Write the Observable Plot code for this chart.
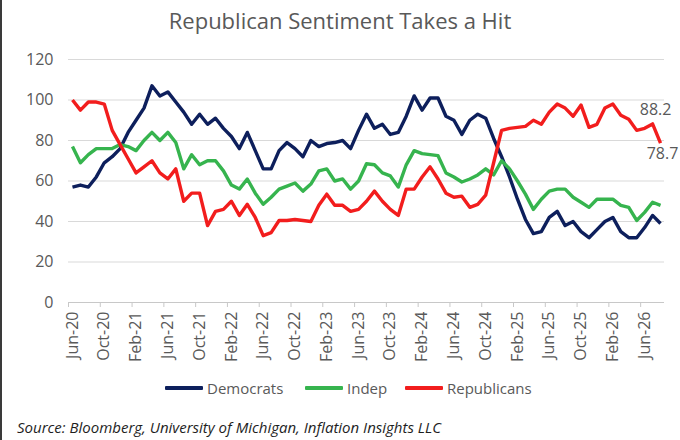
<!DOCTYPE html>
<html>
<head>
<meta charset="utf-8">
<script src="https://cdn.jsdelivr.net/npm/d3@7"></script>
<script src="https://cdn.jsdelivr.net/npm/@observablehq/plot@0.6"></script>
<style>
  html, body { margin: 0; padding: 0; background: #fff; }
  body { width: 680px; height: 440px; position: relative; overflow: hidden; font-family: "Open Sans", sans-serif; }
  #frame { position: absolute; left: 0; top: 0; width: 2px; height: 440px; background: #3a3a3a; }
  #title { position: absolute; left: 0; top: 0; width: 680px; height: 40px; line-height: 40px; text-align: center; font-size: 22px; color: #595959; }
  #chart { position: absolute; left: 0; top: 40px; }
  #legend { position: absolute; left: 0; top: 376px; width: 680px; height: 24px; font-size: 15px; color: #595959; }
  .item { position: absolute; top: 0; height: 24px; line-height: 24px; display: flex; align-items: center; }
  .sw { width: 38px; height: 4px; margin-right: 4px; border-radius: 1px; }
  #source { position: absolute; left: 17px; top: 416px; font-size: 15px; font-style: italic; color: #1e1e1e; line-height: 22px; }
</style>
</head>
<body>
<div id="frame"></div>
<div id="title">Republican Sentiment Takes a Hit</div>
<div id="chart"></div>
<div id="legend"></div>
<div id="source">Source: Bloomberg, University of Michigan, Inflation Insights LLC</div>
<script>
// Months Jun-20 .. Aug-26 (categories)
const monthLabels = d3.utcMonth
  .range(new Date(Date.UTC(2020, 5, 1)), new Date(Date.UTC(2026, 8, 1)))
  .map(d3.utcFormat("%b-%y"));

const tickLabels = ["Jun-20","Oct-20","Feb-21","Jun-21","Oct-21","Feb-22","Jun-22","Oct-22","Feb-23","Jun-23","Oct-23","Feb-24","Jun-24","Oct-24","Feb-25","Jun-25","Oct-25","Feb-26","Jun-26"];
const yTicks = [0, 20, 40, 60, 80, 100, 120];

const seriesNames = ["Democrats", "Indep", "Republicans"];
const seriesColors = ["#0d1f5c", "#36b44e", "#f21d1d"];

const democrats = [57,58,57,62,69,72,76,84,90,96,107,102,104,99,94,88,93,88,91,86,
  82,76,84,75,66,66,75,79,76,72,80,77,78.5,79,80,76,85,93,86,88,
  83,84,92,102,95,101,101,92,90,83,90,93,91,81,72,62,51,41,34,35,
  42,45,38,40,35,32,36,40,42,35,32,32,37,43,39];

const indep = [77,69,73,76,76,76,78,77,75,80,84,80,84,79,66,73,68,70,70,65,
  58,56,61,54,48.5,52,56,57.5,59,55,58.5,65,66,60,61,56,60,68.5,68,64,
  62.5,57,68,75,73.5,73,72.5,64,62,59.5,61,63,66,63,70,66,60,53.5,46,51,
  55,56,56,52,49.5,47,51,51,51,48,47,40.5,44.5,49.5,48];

const republicans = [100,95,99,99,98,85,78,71,64,67,70,64,61,66,50,54,54,38,45,46,
  50,43,48.5,42,33,34.5,40.5,40.5,41,40.5,40,48,53.5,48,48,45,46,50,55,50,
  46,43,56,56,62,67,61,54,52,52.5,47,48.5,53,69,85,86,86.5,87,90,88,
  94,98,96,92,97.5,86.5,88,96,98,92.5,90.5,85,86,88.2,78.7];

const seriesValues = [democrats, indep, republicans];
const labelledPoints = [73, 74]; // indices of annotated Republican values

const rows = seriesNames.flatMap((s, k) =>
  seriesValues[k].map((v, i) => ({ i, month: monthLabels[i], value: v, series: s })));

const tickIdx = tickLabels.map(l => monthLabels.indexOf(l));
const tickBounds = tickIdx.map(i => i - 0.5);
const n = monthLabels.length;

const repRows = rows.filter(d => d.series === "Republicans");
const lab1 = repRows.filter(d => d.i === labelledPoints[0]);
const lab2 = repRows.filter(d => d.i === labelledPoints[1]);

const chart = Plot.plot({
  width: 680,
  height: 335,
  marginLeft: 68,
  marginRight: 16,
  marginTop: 19,
  marginBottom: 73,
  style: { fontFamily: "Open Sans, sans-serif", fontSize: "15px", background: "transparent" },
  x: { type: "linear", domain: [-0.5, n - 0.5], label: null },
  y: { domain: [0, 120], label: null },
  color: { domain: seriesNames, range: seriesColors },
  marks: [
    Plot.gridY(yTicks.filter(t => t > 0), { stroke: "#d9d9d9", strokeOpacity: 1, strokeWidth: 1 }),
    Plot.ruleY([0], { stroke: "#c8c8c8", strokeWidth: 1 }),
    Plot.axisY(yTicks, { tickSize: 0, tickPadding: 15, fill: "#595959", fontSize: 16 }),
    Plot.axisX(tickBounds, { tickSize: 5, stroke: "#c8c8c8", tickFormat: () => "" }),
    Plot.axisX(tickIdx, { tickSize: 0, tickPadding: 9, tickRotate: -90, fill: "#595959", fontSize: 16,
      tickFormat: i => monthLabels[i] }),
    ...seriesNames.map(s => Plot.lineY(rows.filter(d => d.series === s), {
      x: "i", y: "value", stroke: "series", strokeWidth: 3.4, strokeLinejoin: "round", strokeLinecap: "butt"
    })),
    Plot.text(lab1, { x: "i", y: "value", text: d => d.value.toFixed(1), dx: 3, dy: -14, fill: "#595959", fontSize: 16 }),
    Plot.text(lab2, { x: "i", y: "value", text: d => d.value.toFixed(1), dx: 2, dy: 11, fill: "#595959", fontSize: 16 })
  ]
});
document.getElementById("chart").appendChild(chart);

// Legend
const legendLefts = [165, 305, 405];
const legend = document.getElementById("legend");
seriesNames.forEach((s, k) => {
  const item = document.createElement("div");
  item.className = "item";
  item.style.left = legendLefts[k] + "px";
  const sw = document.createElement("div");
  sw.className = "sw";
  sw.style.background = seriesColors[k];
  const t = document.createElement("span");
  t.textContent = s;
  item.appendChild(sw);
  item.appendChild(t);
  legend.appendChild(item);
});
</script>
</body>
</html>
